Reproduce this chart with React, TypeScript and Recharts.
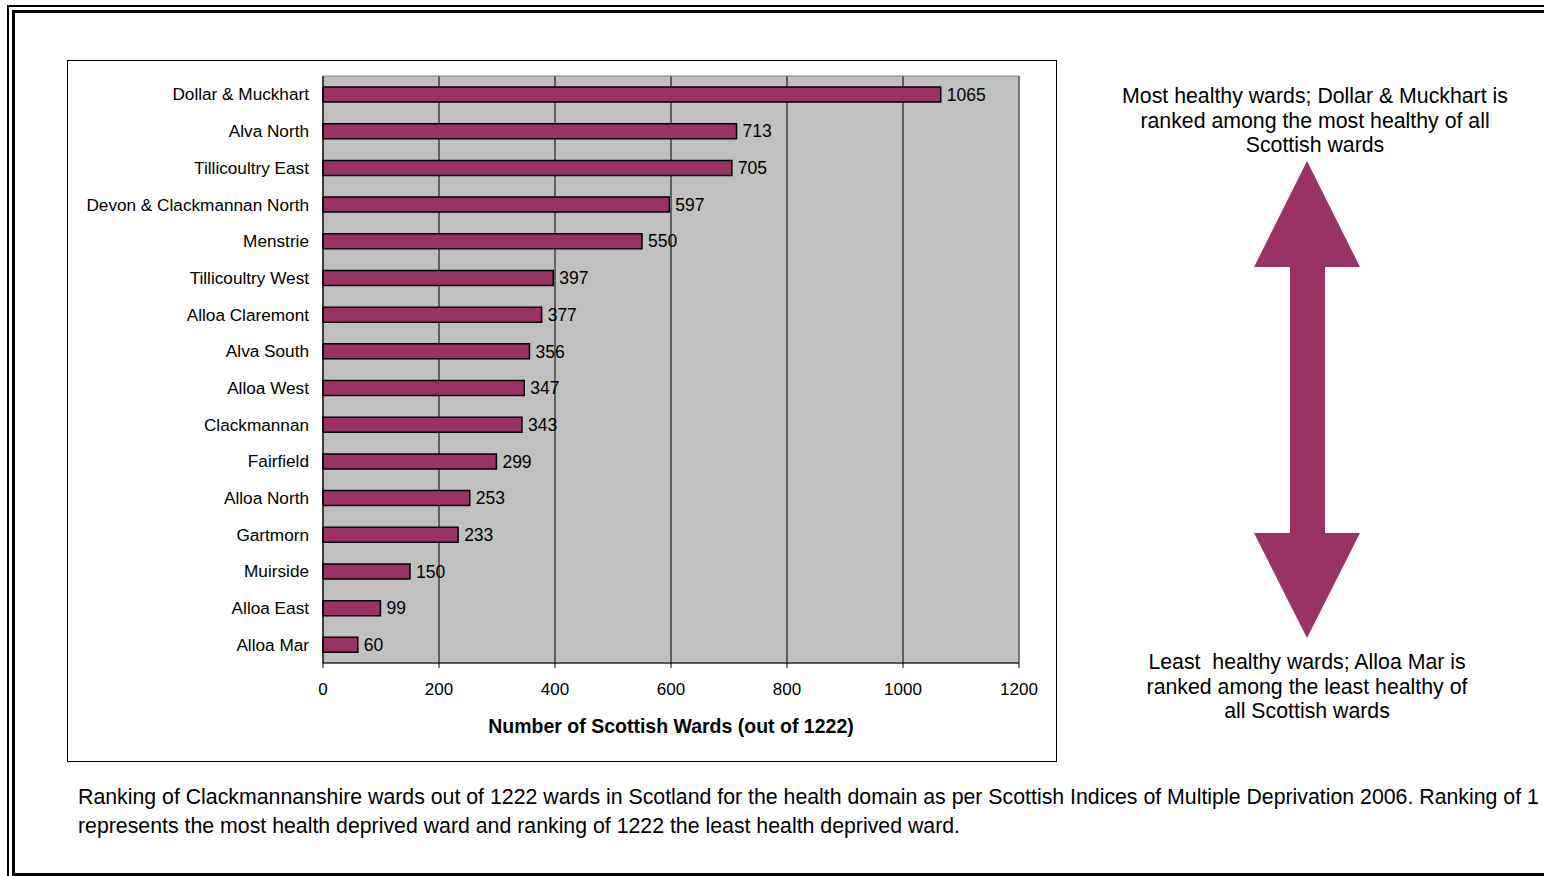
import React from "react";
import {Bar, BarChart, CartesianGrid, LabelList, ReferenceArea, XAxis, YAxis} from "recharts";

const wards = [
    "Dollar & Muckhart",
    "Alva North",
    "Tillicoultry East",
    "Devon & Clackmannan North",
    "Menstrie",
    "Tillicoultry West",
    "Alloa Claremont",
    "Alva South",
    "Alloa West",
    "Clackmannan",
    "Fairfield",
    "Alloa North",
    "Gartmorn",
    "Muirside",
    "Alloa East",
    "Alloa Mar",
];
const ranks = [1065, 713, 705, 597, 550, 397, 377, 356, 347, 343, 299, 253, 233, 150, 99, 60];
const xTicks = [0, 200, 400, 600, 800, 1000, 1200];
const bandEdges = [0, 1, 2, 3, 4, 5, 6, 7, 8, 9, 10, 11, 12, 13, 14, 15, 16];

const topNote = ["Most healthy wards; Dollar & Muckhart is", "ranked among the most healthy of all", "Scottish wards"];
const bottomNote = ["Least  healthy wards; Alloa Mar is", "ranked among the least healthy of", "all Scottish wards"];
const caption = [
    "Ranking of Clackmannanshire wards out of 1222 wards in Scotland for the health domain as per Scottish Indices of Multiple Deprivation 2006. Ranking of 1",
    "represents the most health deprived ward and ranking of 1222 the least health deprived ward.",
];

const data = wards.map((name, i) => ({name, rank: ranks[i]}));

const font = "'Liberation Sans', Arial, sans-serif";
const plum = "#993366";

export default function App() {
    return (
        <div style={{position: "fixed", left: 0, top: 0, width: 1544, height: 876, overflow: "hidden", background: "#fff", fontFamily: font}}>
            {/* page border, double line */}
            <div style={{position: "absolute", left: 7, top: 5, width: 1600, height: 900, borderLeft: "2px solid #000", borderTop: "2px solid #000"}} />
            <div style={{position: "absolute", left: 12, top: 10, width: 1600, height: 860, border: "3px solid #000"}} />

            <div style={{position: "absolute", left: 67, top: 60, width: 990, height: 702, border: "1px solid #000", boxSizing: "border-box"}} />
            <div style={{position: "absolute", left: 67, top: 60}}>
                <BarChart width={990} height={702} data={data} layout="vertical" margin={{top: 16, right: 38, left: 0, bottom: 0}}>
                    <CartesianGrid horizontal={false} stroke="#000" fill="#C0C0C0" fillOpacity={1} />
                    <ReferenceArea x1={0} x2={1200} yAxisId="cat" fill="none" stroke="#808080" ifOverflow="extendDomain" />
                    <XAxis
                        type="number"
                        domain={[0, 1200]}
                        ticks={xTicks}
                        tickSize={5}
                        tickMargin={15}
                        height={99}
                        stroke="#000"
                        tick={{fill: "#000", fontSize: 17, fontFamily: font}}
                        label={{value: "Number of Scottish Wards (out of 1222)", position: "insideBottom", offset: 29, fill: "#000", fontSize: 19.5, fontWeight: "bold", fontFamily: font}}
                    />
                    <YAxis
                        yAxisId="edges"
                        type="number"
                        domain={[0, 16]}
                        ticks={bandEdges}
                        width={0}
                        tickSize={5}
                        axisLine={false}
                        stroke="#000"
                        tickFormatter={() => ""}
                    />
                    <YAxis
                        yAxisId="cat"
                        type="category"
                        dataKey="name"
                        width={256}
                        tickLine={false}
                        tickSize={5}
                        tickMargin={9}
                        stroke="#000"
                        interval={0}
                        tick={{fill: "#000", fontSize: 17.2, fontFamily: font}}
                    />
                    <Bar dataKey="rank" yAxisId="cat" fill={plum} stroke="#000" strokeWidth={1.5} barSize={15} isAnimationActive={false}>
                        <LabelList dataKey="rank" position="right" offset={6} fill="#000" fontSize={17.5} fontFamily={font} />
                    </Bar>
                </BarChart>
            </div>

            <div style={{position: "absolute", left: 1065, width: 500, top: 84, textAlign: "center", fontSize: 21.3, lineHeight: "24.5px", color: "#000"}}>
                {topNote.map((t) => <div key={t}>{t}</div>)}
            </div>
            <svg style={{position: "absolute", left: 0, top: 0}} width={1544} height={876}>
                <polygon
                    points="1307,161 1360,267 1325,267 1325,533 1360,533 1307,638 1254,533 1290,533 1290,267 1254,267"
                    fill={plum}
                />
            </svg>
            <div style={{position: "absolute", left: 1057, width: 500, top: 650, textAlign: "center", fontSize: 21.3, lineHeight: "24.5px", color: "#000"}}>
                {bottomNote.map((t) => <div key={t} style={{whiteSpace: "pre"}}>{t}</div>)}
            </div>

            <div style={{position: "absolute", left: 78, top: 783, fontSize: 21.3, lineHeight: "29px", color: "#000", whiteSpace: "nowrap"}}>
                {caption.map((t) => <div key={t}>{t}</div>)}
            </div>
        </div>
    );
}
